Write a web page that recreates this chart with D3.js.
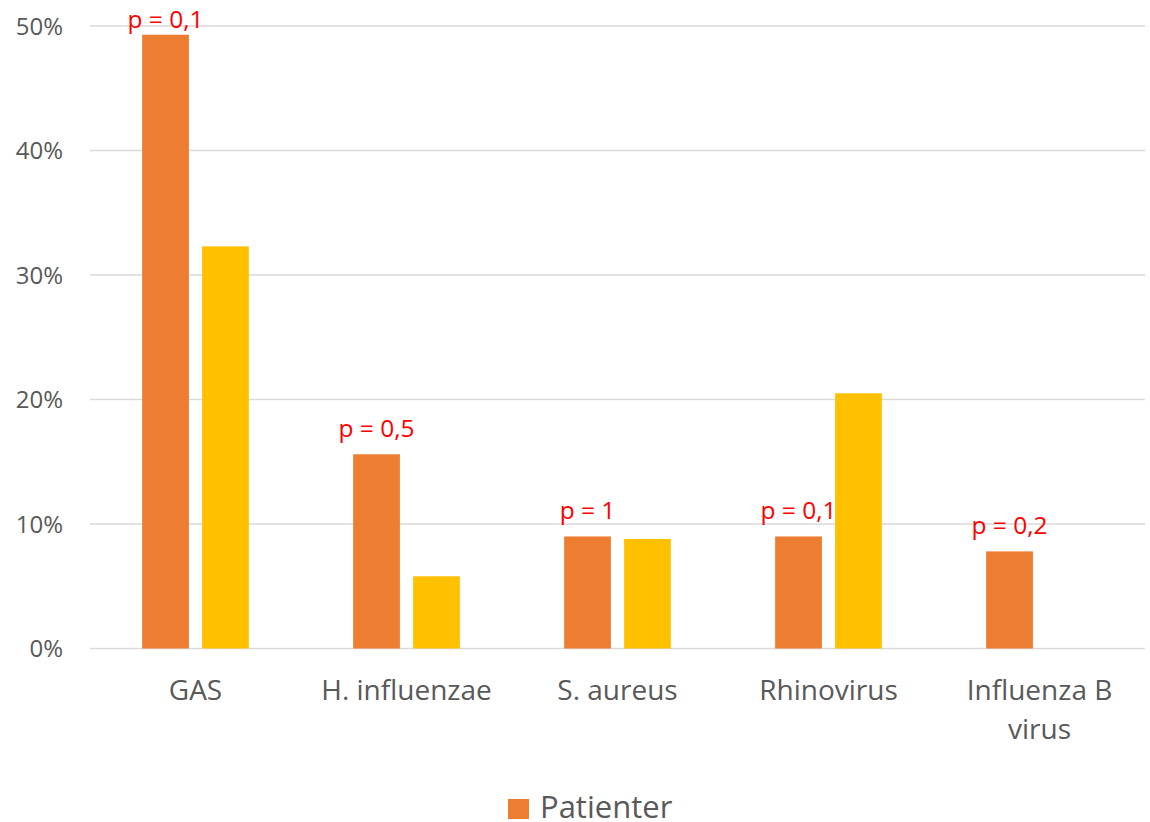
<!DOCTYPE html>
<html>
<head>
<meta charset="utf-8">
<script src="https://cdn.jsdelivr.net/npm/d3@7/dist/d3.min.js"></script>
<style>
  html, body { margin: 0; padding: 0; background: #fff; }
  svg { display: block; font-family: "Open Sans", "Noto Sans", sans-serif; }
</style>
</head>
<body>
<svg id="chart" width="1150" height="822"></svg>
<script>
// Pathogen categories (x axis); "\n" marks a line break in the label
const categories = ["GAS", "H. influenzae", "S. aureus", "Rhinovirus", "Influenza B\nvirus"];
// Detection rates (fraction) per series
const patienter = [0.493, 0.156, 0.090, 0.090, 0.078];
const kontroller = [0.323, 0.058, 0.088, 0.205, 0];
// p-values shown above each category
const pValues = ["p = 0,1", "p = 0,5", "p = 1", "p = 0,1", "p = 0,2"];
// Y axis ticks
const yTicks = [0, 0.1, 0.2, 0.3, 0.4, 0.5];
const seriesNames = ["Patienter", "Kontroller"];
const seriesColors = ["#ED7D31", "#FFC000"];

const svg = d3.select("#chart");
const plotLeft = 90, plotRight = 1145, plotTop = 26, plotBottom = 648.5;

const y = d3.scaleLinear().domain([0, 0.5]).range([plotBottom, plotTop]);
const x0 = d3.scaleBand().domain(categories).range([plotLeft, plotRight]).padding(0);
const x1 = d3.scaleBand().domain(seriesNames).range([0, x0.bandwidth()])
  .paddingInner(0.22).paddingOuter(0.87);

// Horizontal gridlines
svg.append("g").selectAll("line").data(yTicks).join("line")
  .attr("x1", plotLeft).attr("x2", plotRight)
  .attr("y1", d => y(d)).attr("y2", d => y(d))
  .attr("stroke", "#d9d9d9").attr("stroke-width", 1.3);

// Y tick labels
svg.append("g").selectAll("text").data(yTicks).join("text")
  .attr("x", 63).attr("y", d => y(d)).attr("dy", "0.36em")
  .attr("text-anchor", "end")
  .attr("font-size", 24).attr("fill", "#595959")
  .text(d => d3.format(".0%")(d));

const rows = categories.map((c, i) => ({ c, vals: [patienter[i], kontroller[i]] }));

// p-value labels above the patient bar (drawn beneath the bars)
svg.append("g").selectAll("text").data(rows).join("text")
  .attr("x", d => x0(d.c) + x1("Patienter") + x1.bandwidth() / 2)
  .attr("y", d => Math.max(y(d.vals[0]) - 17, plotTop + 2))
  .attr("text-anchor", "middle")
  .attr("font-size", 24.5).attr("fill", "#FF0000")
  .text((d, i) => pValues[i]);

// Bars
const groups = svg.append("g").selectAll("g").data(rows).join("g")
  .attr("transform", d => `translate(${x0(d.c)},0)`);
groups.selectAll("rect")
  .data(d => d.vals.map((v, j) => ({ v, s: seriesNames[j], color: seriesColors[j] })).filter(d => d.v > 0))
  .join("rect")
  .attr("x", d => x1(d.s)).attr("width", x1.bandwidth())
  .attr("y", d => y(d.v)).attr("height", d => y(0) - y(d.v))
  .attr("fill", d => d.color);

// Category labels
const cat = svg.append("g").selectAll("text").data(categories).join("text")
  .attr("x", d => x0(d) + x0.bandwidth() / 2)
  .attr("y", 700)
  .attr("text-anchor", "middle")
  .attr("font-size", 28).attr("fill", "#595959");
cat.selectAll("tspan").data(d => d.split("\n")).join("tspan")
  .attr("x", function () { return d3.select(this.parentNode).attr("x"); })
  .attr("dy", (d, i) => i === 0 ? 0 : 39)
  .text(d => d);

// Legend
const lg = svg.append("g").attr("transform", "translate(508,799)");
lg.append("rect").attr("width", 21).attr("height", 20).attr("fill", seriesColors[0]);
lg.append("text").attr("x", 32).attr("y", 19)
  .attr("font-size", 31).attr("fill", "#595959").text(seriesNames[0]);
</script>
</body>
</html>
